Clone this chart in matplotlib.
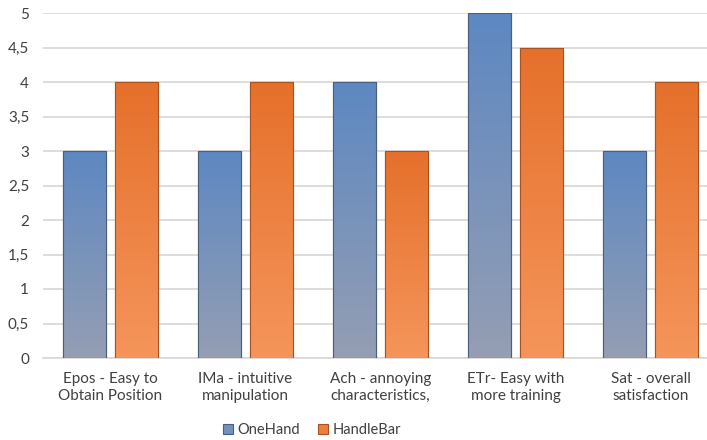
import numpy as np
import matplotlib.pyplot as plt
from matplotlib.colors import LinearSegmentedColormap

categories = ["Epos - Easy to\nObtain Position",
              "IMa - intuitive\nmanipulation",
              "Ach - annoying\ncharacteristics,",
              "ETr- Easy with\nmore training",
              "Sat - overall\nsatisfaction"]
one_hand = [3, 3, 4, 5, 3]
handle_bar = [4, 4, 3, 4.5, 4]
y_ticks = [0, 0.5, 1, 1.5, 2, 2.5, 3, 3.5, 4, 4.5, 5]

plt.rcParams['font.family'] = ['Lato', 'DejaVu Sans']

fig = plt.figure(figsize=(7.07, 4.40), dpi=100)
# right edge runs past the canvas, the last gridlines get cut off
ax = fig.add_axes([43 / 707, 1 - 358 / 440, 675 / 707, 345 / 440])

x = np.arange(len(categories))
w = 0.32
off = 0.195

blue_cmap = LinearSegmentedColormap.from_list("b", ["#959eb3", "#5d88c2"])
orange_cmap = LinearSegmentedColormap.from_list("o", ["#f5955b", "#e5702b"])
grad = np.linspace(0, 1, 256).reshape(-1, 1)


def gradient_bars(xs, vals, cmap, edge, label):
    bars = ax.bar(xs, vals, w, color=cmap(0.6), edgecolor=edge,
                  linewidth=0.8, label=label, zorder=3)
    for b in bars:
        x0, y0, h = b.get_x(), b.get_y(), b.get_height()
        im = ax.imshow(grad, cmap=cmap, origin="lower", aspect="auto",
                       extent=[x0, x0 + b.get_width(), y0, y0 + h],
                       zorder=3.5)
        im.set_clip_path(b)
        # thin outline drawn over the gradient
        ax.bar(x0 + b.get_width() / 2, h, w,
               fill=False, edgecolor=edge, linewidth=0.8, zorder=4)
    return bars


gradient_bars(x - off, one_hand, blue_cmap, "#4a5f80", "OneHand")
gradient_bars(x + off, handle_bar, orange_cmap, "#a9521f", "HandleBar")

ax.set_xlim(-0.5, len(categories) - 0.5)
ax.set_ylim(0, 5)
ax.set_yticks(y_ticks)
ax.set_yticklabels([("%g" % v).replace(".", ",") for v in y_ticks])
ax.set_xticks(x)
ax.set_xticklabels(categories, linespacing=1.3)

ax.grid(axis="y", color="#d9d6d3", linewidth=1.2, zorder=0)
ax.set_axisbelow(True)
for s in ("top", "right", "left"):
    ax.spines[s].set_visible(False)
ax.spines["bottom"].set_color("#d9d6d3")
ax.spines["bottom"].set_linewidth(1.2)
ax.tick_params(axis="both", length=0, labelsize=11, colors="#404040")
ax.tick_params(axis="x", pad=10)
ax.tick_params(axis="y", pad=10)

fig.legend(loc="center", bbox_to_anchor=(312 / 707, 1 - 430 / 440), ncol=2,
           frameon=False, fontsize=10.5, handlelength=0.7, handleheight=0.7,
           handletextpad=0.3, columnspacing=1.2, labelcolor="#404040")

plt.savefig("out.png", dpi=100)
